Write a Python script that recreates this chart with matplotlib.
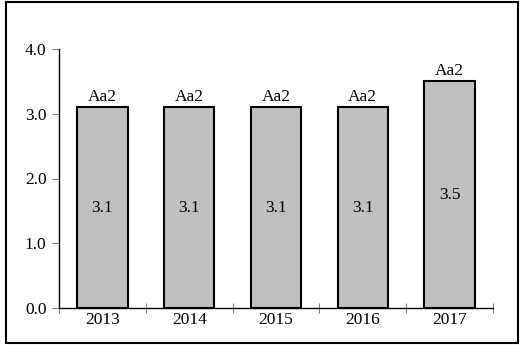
import numpy as np
import matplotlib.pyplot as plt
from matplotlib.patches import Rectangle

years = ['2013', '2014', '2015', '2016', '2017']
values = [3.1, 3.1, 3.1, 3.1, 3.5]
ratings = ['Aa2', 'Aa2', 'Aa2', 'Aa2', 'Aa2']

plt.rcParams['font.family'] = ['Liberation Serif', 'DejaVu Serif']
fsize = 12.5

fig = plt.figure(figsize=(5.21, 3.64), dpi=100)
ax = fig.add_axes([59 / 521, 56 / 364, 434 / 521, 259 / 364])

x = np.arange(len(years))
bars = ax.bar(x, values, width=0.58, color='#c0c0c0', edgecolor='black', linewidth=1.5)

for xi, v, r in zip(x, values, ratings):
    ax.text(xi, v / 2, '%.1f' % v, ha='center', va='center', fontsize=fsize)
    ax.text(xi, v + 0.04, r, ha='center', va='bottom', fontsize=fsize)

ax.set_xlim(-0.5, len(years) - 0.5)
ax.set_ylim(0, 4)
ax.set_yticks(np.arange(0, 4.1, 1.0))
ax.set_yticklabels(['%.1f' % t for t in np.arange(0, 4.1, 1.0)], fontsize=fsize)
ax.tick_params(axis='y', length=5, color='#808080', pad=4)

# category labels centred, ticks on the boundaries
ax.set_xticks(x)
ax.set_xticklabels(years, fontsize=fsize)
ax.tick_params(axis='x', length=0, pad=3)
ax.set_xticks(np.arange(-0.5, len(years)), minor=True)
ax.tick_params(axis='x', which='minor', direction='inout', length=7, color='#606060')

for s in ['top', 'right']:
    ax.spines[s].set_visible(False)
ax.spines['left'].set_linewidth(1.0)
ax.spines['bottom'].set_linewidth(1.0)

# outer frame
fig.patches.append(Rectangle((6 / 521, 1 - 343 / 364), 512 / 521, 341 / 364,
                             transform=fig.transFigure, fill=False,
                             edgecolor='black', linewidth=1.5))

fig.savefig('out.png', dpi=100)
